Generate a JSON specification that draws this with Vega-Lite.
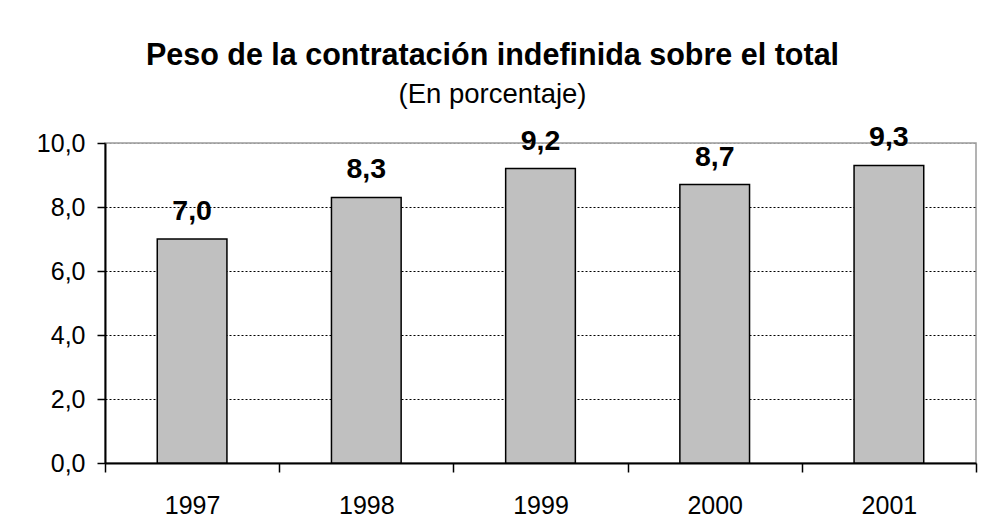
{
  "$schema": "https://vega.github.io/schema/vega-lite/v6.json",
  "autosize": {"type": "none"},
  "width": 871,
  "height": 320,
  "padding": {"left": 105, "top": 143, "right": 8, "bottom": 58},
  "background": "white",
  "config": {
    "locale": {"number": {"decimal": ",", "thousands": ".", "grouping": [3], "currency": ["", " €"]}},
    "font": "Liberation Sans",
    "view": {"stroke": "#9a9a9a", "strokeWidth": 1.5},
    "axis": {
      "labelFont": "Liberation Sans",
      "labelColor": "black",
      "domainColor": "black",
      "domainWidth": 2,
      "tickColor": "black",
      "tickWidth": 1.5,
      "title": null
    }
  },
  "title": {
    "text": "Peso de la contratación indefinida sobre el total",
    "subtitle": "(En porcentaje)",
    "font": "Liberation Sans",
    "fontSize": 30.5,
    "fontWeight": "bold",
    "color": "black",
    "subtitleFont": "Liberation Sans",
    "subtitleFontSize": 27.5,
    "subtitleColor": "black",
    "subtitlePadding": 9,
    "anchor": "middle",
    "dx": -48,
    "offset": 15
  },
  "data": {
    "values": [
      {"year": "1997", "value": 7.0},
      {"year": "1998", "value": 8.3},
      {"year": "1999", "value": 9.2},
      {"year": "2000", "value": 8.7},
      {"year": "2001", "value": 9.3}
    ]
  },
  "encoding": {
    "x": {
      "field": "year",
      "type": "nominal",
      "sort": null,
      "scale": {"paddingInner": 0, "paddingOuter": 0},
      "axis": {
        "labelAngle": 0,
        "labelFontSize": 25,
        "labelBaseline": "alphabetic",
        "labelPadding": 41,
        "tickBand": "extent",
        "tickSize": 9,
        "grid": false
      }
    },
    "y": {
      "field": "value",
      "type": "quantitative",
      "scale": {"domain": [0, 10], "nice": false, "zero": true},
      "axis": {
        "values": [0, 2, 4, 6, 8, 10],
        "format": ".1f",
        "labelFontSize": 25,
        "labelPadding": 12,
        "tickSize": 8,
        "grid": true,
        "gridDash": [2, 2],
        "gridWidth": 1,
        "gridColor": {"condition": {"test": "datum.value === 10", "value": "#9a9a9a"}, "value": "black"}
      }
    }
  },
  "layer": [
    {
      "mark": {"type": "bar", "width": {"band": 0.4}, "fill": "#c0c0c0", "stroke": "black", "strokeWidth": 1.5}
    },
    {
      "mark": {"type": "text", "fontSize": 28.5, "fontWeight": "bold", "baseline": "alphabetic", "dy": -19, "color": "black", "font": "Liberation Sans"},
      "encoding": {
        "text": {"field": "value", "type": "quantitative", "format": ".1f"}
      }
    }
  ]
}
